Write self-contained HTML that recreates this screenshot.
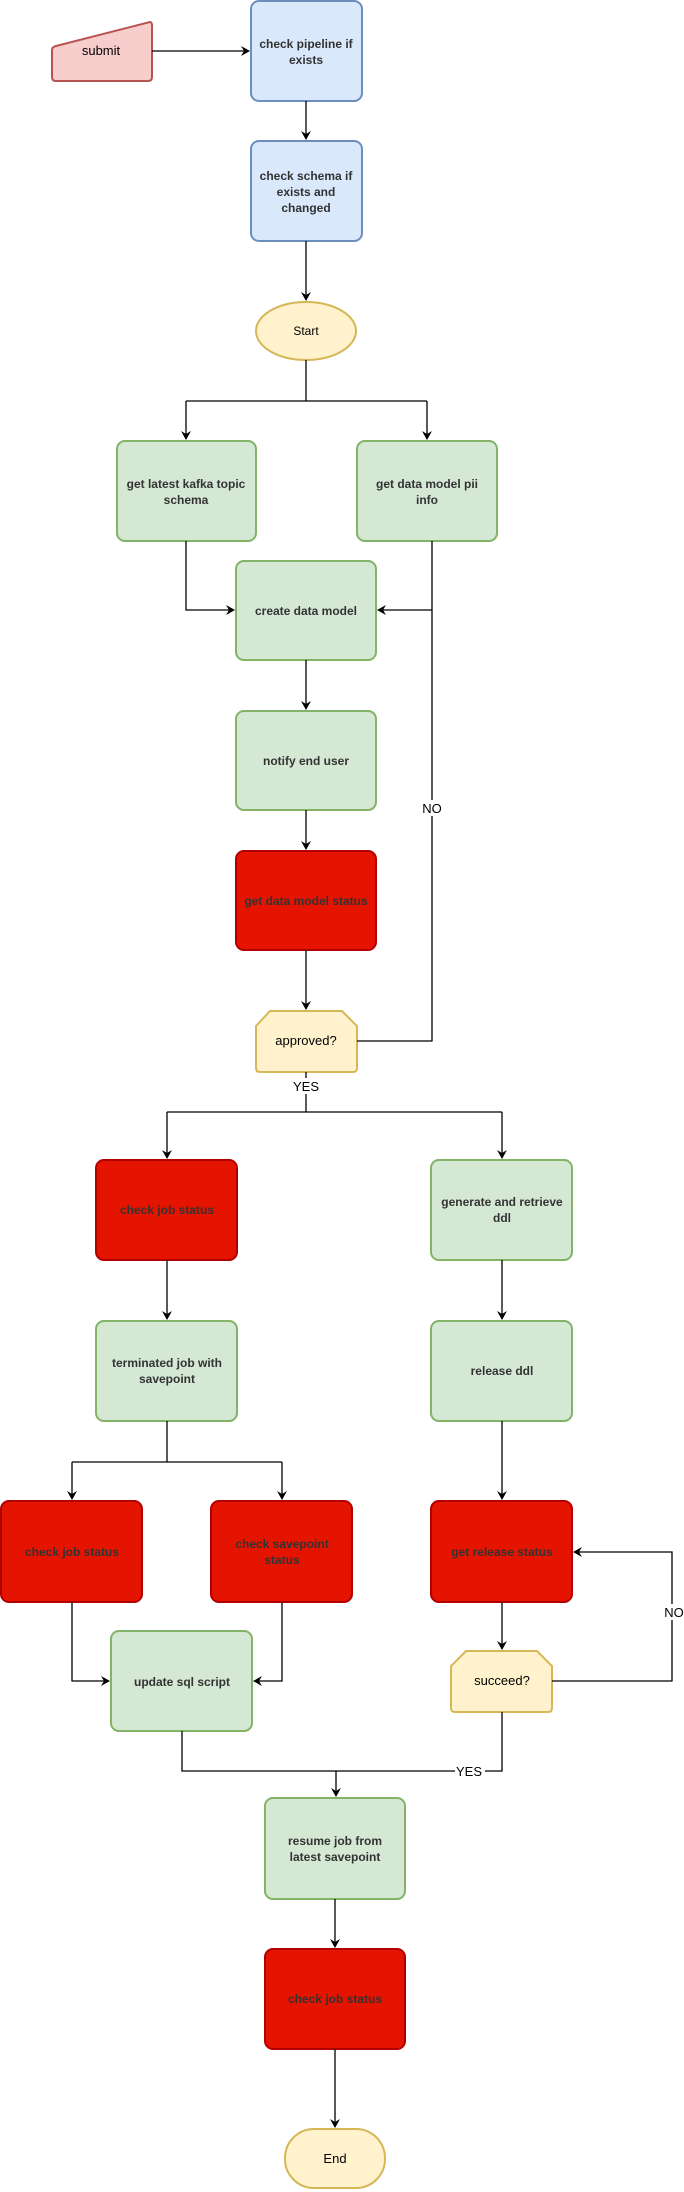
<!DOCTYPE html>
<html><head><meta charset="utf-8"><style>
html,body{margin:0;padding:0;background:#fff;}
svg{display:block;}
text{font-family:"Liberation Sans","DejaVu Sans",sans-serif;font-size:12px;font-weight:bold;text-anchor:middle;fill:#333;}
.k{fill:#000;font-weight:normal;font-size:13px;}
.l{fill:none;stroke:#000;stroke-width:1.3;}
</style></head><body>
<svg width="684" height="2192" viewBox="0 0 684 2192" xmlns="http://www.w3.org/2000/svg">
<defs><marker id="a" markerWidth="10" markerHeight="10" refX="8" refY="5" orient="auto" markerUnits="userSpaceOnUse"><path d="M0,0 L9,5 L0,10 L3,5 Z" fill="#000"/></marker></defs>
<g fill="#d5e8d4" stroke="#82b366" stroke-width="2">
<rect x="117" y="441" width="139" height="100" rx="8"/>
<rect x="357" y="441" width="140" height="100" rx="8"/>
<rect x="236" y="561" width="140" height="99" rx="8"/>
<rect x="236" y="711" width="140" height="99" rx="8"/>
<rect x="431" y="1160" width="141" height="100" rx="8"/>
<rect x="96" y="1321" width="141" height="100" rx="8"/>
<rect x="431" y="1321" width="141" height="100" rx="8"/>
<rect x="111" y="1631" width="141" height="100" rx="8"/>
<rect x="265" y="1798" width="140" height="101" rx="8"/>
</g>
<g fill="#e51400" stroke="#b20000" stroke-width="2">
<rect x="236" y="851" width="140" height="99" rx="8"/>
<rect x="96" y="1160" width="141" height="100" rx="8"/>
<rect x="1" y="1501" width="141" height="101" rx="8"/>
<rect x="211" y="1501" width="141" height="101" rx="8"/>
<rect x="431" y="1501" width="141" height="101" rx="8"/>
<rect x="265" y="1949" width="140" height="100" rx="8"/>
</g>
<g fill="#dae8fc" stroke="#6c8ebf" stroke-width="2">
<rect x="251" y="1" width="111" height="100" rx="8"/>
<rect x="251" y="141" width="111" height="100" rx="8"/>
</g>
<path d="M56,46 L150,22 Q152,22 152,26 L152,77 Q152,81 148,81 L56,81 Q52,81 52,77 L52,50 Q52,47 56,46 Z" fill="#f8cecc" stroke="#b85450" stroke-width="2"/>
<g fill="#fff2cc" stroke="#d6b656" stroke-width="2">
<ellipse cx="306" cy="331" rx="50" ry="29"/>
<path d="M270,1011 L342,1011 L357,1026 L357,1068 Q357,1072 353,1072 L260,1072 Q256,1072 256,1068 L256,1026 Z"/>
<path d="M466,1651 L537,1651 L552,1666 L552,1708 Q552,1712 548,1712 L455,1712 Q451,1712 451,1708 L451,1666 Z"/>
<rect x="285" y="2129" width="100" height="59" rx="29"/>
</g>
<g class="l">
<path d="M152,51 L249,51" marker-end="url(#a)"/>
<path d="M306,101 L306,139" marker-end="url(#a)"/>
<path d="M306,241 L306,300" marker-end="url(#a)"/>
<path d="M306,360 L306,401 M186,401 L427,401"/>
<path d="M186,401 L186,439" marker-end="url(#a)"/>
<path d="M427,401 L427,439" marker-end="url(#a)"/>
<path d="M186,541 L186,610 L234,610" marker-end="url(#a)"/>
<path d="M432,541 L432,1041 L357,1041"/>
<path d="M432,610 L378,610" marker-end="url(#a)"/>
<path d="M306,660 L306,709" marker-end="url(#a)"/>
<path d="M306,810 L306,849" marker-end="url(#a)"/>
<path d="M306,950 L306,1009" marker-end="url(#a)"/>
<path d="M306,1072 L306,1112 M167,1112 L502,1112"/>
<path d="M167,1112 L167,1158" marker-end="url(#a)"/>
<path d="M502,1112 L502,1158" marker-end="url(#a)"/>
<path d="M167,1260 L167,1319" marker-end="url(#a)"/>
<path d="M502,1260 L502,1319" marker-end="url(#a)"/>
<path d="M167,1421 L167,1462 M72,1462 L282,1462"/>
<path d="M72,1462 L72,1499" marker-end="url(#a)"/>
<path d="M282,1462 L282,1499" marker-end="url(#a)"/>
<path d="M502,1421 L502,1499" marker-end="url(#a)"/>
<path d="M72,1602 L72,1681 L109,1681" marker-end="url(#a)"/>
<path d="M282,1602 L282,1681 L254,1681" marker-end="url(#a)"/>
<path d="M502,1602 L502,1649" marker-end="url(#a)"/>
<path d="M552,1681 L672,1681 L672,1552 L574,1552" marker-end="url(#a)"/>
<path d="M182,1731 L182,1771 L502,1771 L502,1712"/>
<path d="M336,1771 L336,1796" marker-end="url(#a)"/>
<path d="M335,1899 L335,1947" marker-end="url(#a)"/>
<path d="M335,2049 L335,2127" marker-end="url(#a)"/>
</g>
<g fill="#fff">
<rect x="420" y="800" width="24" height="16"/>
<rect x="290" y="1078" width="32" height="16"/>
<rect x="662" y="1604" width="22" height="16"/>
<rect x="455" y="1763" width="30" height="16"/>
</g>
<text x="101" y="55" class="k">submit</text>
<text x="306" y="48">check pipeline if</text><text x="306" y="64">exists</text>
<text x="306" y="180">check schema if</text><text x="306" y="196">exists and</text><text x="306" y="212">changed</text>
<text x="306" y="335" class="k" style="font-size:12px">Start</text>
<text x="186" y="488">get latest kafka topic</text><text x="186" y="504">schema</text>
<text x="427" y="488">get data model pii</text><text x="427" y="504">info</text>
<text x="306" y="615">create data model</text>
<text x="306" y="765">notify end user</text>
<text x="306" y="905">get data model status</text>
<text x="306" y="1045" class="k">approved?</text>
<text x="432" y="813" class="k">NO</text>
<text x="306" y="1091" class="k">YES</text>
<text x="167" y="1214">check job status</text>
<text x="502" y="1206">generate and retrieve</text><text x="502" y="1222">ddl</text>
<text x="167" y="1367">terminated job with</text><text x="167" y="1383">savepoint</text>
<text x="502" y="1375">release ddl</text>
<text x="72" y="1556">check job status</text>
<text x="282" y="1548">check savepoint</text><text x="282" y="1564">status</text>
<text x="502" y="1556">get release status</text>
<text x="182" y="1686">update sql script</text>
<text x="502" y="1685" class="k">succeed?</text>
<text x="674" y="1617" class="k">NO</text>
<text x="469" y="1776" class="k">YES</text>
<text x="335" y="1845">resume job from</text><text x="335" y="1861">latest savepoint</text>
<text x="335" y="2003">check job status</text>
<text x="335" y="2163" class="k">End</text>
</svg>
</body></html>
